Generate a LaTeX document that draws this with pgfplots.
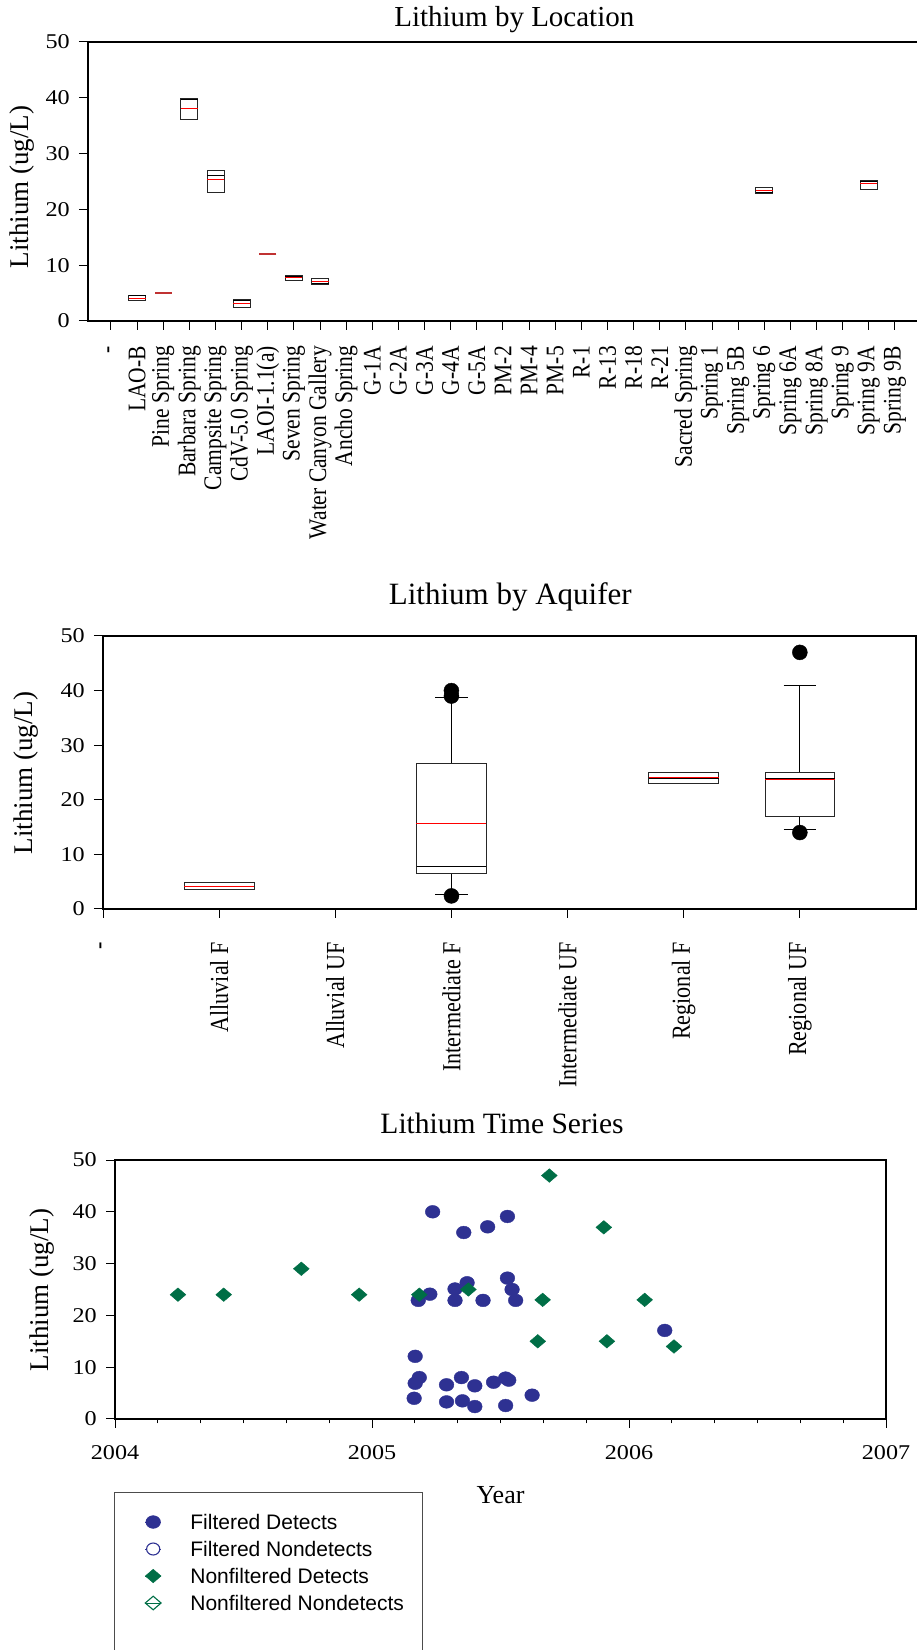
\documentclass[border=0pt]{standalone}
\usepackage{fontspec}
\setmainfont{Liberation Serif}
\newfontfamily\tickfont[FakeStretch=1.15]{Liberation Serif}
\newfontfamily\rotfont[FakeStretch=0.85]{Liberation Serif}
\newfontfamily\legfont{Liberation Sans}
\usepackage{pgfplots}
\pgfplotsset{compat=1.18}
\usepgfplotslibrary{statistics}
\definecolor{fblue}{RGB}{46,49,146}
\definecolor{nfgreen}{RGB}{0,110,70}
\definecolor{darkred}{RGB}{192,50,50}
\pgfplotsset{
  common/.style={
    scale only axis, anchor=south west,
    ymin=0, ymax=50, ytick={0,10,20,30,40,50},
    tick align=outside, tick pos=left,
    major tick length=9bp,
    axis line style={line width=1.1bp, black},
    every tick/.style={black, line width=1bp},
    /pgf/number format/assume math mode=true,
    yticklabel style={font=\tickfont\fontsize{21bp}{23bp}\selectfont, anchor=east, inner sep=0pt, xshift=-9bp},
    ylabel={Lithium (ug/L)},
    ylabel style={font=\fontsize{27bp}{30bp}\selectfont, anchor=center},
    boxplot/draw direction=y,
    boxplot/every box/.style={draw=black!85, line width=0.9bp},
    boxplot/every whisker/.style={black, line width=0.9bp},
    boxplot/every median/.style={black, line width=1.1bp},
  },
  legmark/.style={legend image code/.code={\path (-8bp,0bp) -- (8bp,0bp); \draw[##1] plot coordinates {(0bp,0bp)};}},
}
\begin{document}
\begin{tikzpicture}
\useasboundingbox (0,0) rectangle (917bp,1650bp);
% ---------------- Plot 1 ----------------
\begin{axis}[common,
  at={(88bp,1329bp)}, width=831bp, height=279bp,
  xmin=-0.88, xmax=30.92,
  xtick={0,...,30},
  xticklabels={-, LAO-B, Pine Spring, Barbara Spring, Campsite Spring, CdV-5.0 Spring, LAOI-1.1(a), Seven Spring, Water Canyon Gallery, Ancho Spring, G-1A, G-2A, G-3A, G-4A, G-5A, PM-2, PM-4, PM-5, R-1, R-13, R-18, R-21, Sacred Spring, Spring 1, Spring 5B, Spring 6, Spring 6A, Spring 8A, Spring 9, Spring 9A, Spring 9B},
  xticklabel style={rotate=90, anchor=east, inner sep=0pt, xshift=-16bp, font=\rotfont\fontsize{25.3bp}{27bp}\selectfont},
  ylabel style={at={(axis description cs:-0.0794,0.48)}},
  title={Lithium by Location},
  every axis title/.style={at={(axis description cs:0.513,1)}, anchor=base, yshift=15bp, inner sep=0pt, font=\fontsize{29bp}{32bp}\selectfont},
  boxplot/box extend=0.65, boxplot/whisker extend=0,
]
\addplot[black, boxplot prepared={draw position=1, lower quartile=3.6, upper quartile=4.5, median=4.5, lower whisker=3.6, upper whisker=4.5}] coordinates {};
\addplot[black, boxplot prepared={draw position=3, lower quartile=36.2, upper quartile=39.8, median=39.7, lower whisker=36.2, upper whisker=39.8}] coordinates {};
\addplot[black, boxplot prepared={draw position=4, lower quartile=23.0, upper quartile=27.0, median=26.0, lower whisker=23.0, upper whisker=27.0}] coordinates {};
\addplot[black, boxplot prepared={draw position=5, lower quartile=2.45, upper quartile=3.8, median=3.7, lower whisker=2.45, upper whisker=3.8}] coordinates {};
\addplot[black, boxplot prepared={draw position=7, lower quartile=7.2, upper quartile=8.1, median=8.0, lower whisker=7.2, upper whisker=8.1}] coordinates {};
\addplot[black, boxplot prepared={draw position=8, lower quartile=6.5, upper quartile=7.7, median=6.7, lower whisker=6.5, upper whisker=7.7}] coordinates {};
\addplot[black, boxplot prepared={draw position=25, lower quartile=22.9, upper quartile=24.0, median=23.0, lower whisker=22.9, upper whisker=24.0}] coordinates {};
\addplot[black, boxplot prepared={draw position=29, lower quartile=23.5, upper quartile=25.1, median=25.0, lower whisker=23.5, upper whisker=25.1}] coordinates {};
% means
\addplot[only marks, mark=-, mark size=8.5bp, red, mark options={line width=1bp}] coordinates {(1,4.07) (3,38.0) (4,25.4) (5,3.05) (7,7.75) (8,7.0) (25,23.3) (29,24.55)};
\addplot[only marks, mark=-, mark size=8.5bp, darkred, mark options={line width=1.6bp}] coordinates {(2,5.0) (6,12.0)};
\end{axis}
% ---------------- Plot 2 ----------------
\begin{axis}[common,
  at={(103bp,741bp)}, width=813bp, height=273bp,
  xmin=0, xmax=7,
  xtick={0,...,6},
  xticklabels={-, Alluvial F, Alluvial UF, Intermediate F, Intermediate UF, Regional F, Regional UF},
  xticklabel style={rotate=90, anchor=east, inner sep=0pt, xshift=-24bp, font=\rotfont\fontsize{26bp}{28bp}\selectfont},
  ylabel style={at={(axis description cs:-0.0949,0.498)}},
  title={Lithium by Aquifer},
  every axis title/.style={at={(axis description cs:0.501,1)}, anchor=base, yshift=31bp, inner sep=0pt, font=\fontsize{31bp}{34bp}\selectfont},
  boxplot/box extend=0.6, boxplot/whisker extend=0.28,
]
\addplot[black, boxplot prepared={draw position=1, lower quartile=3.5, upper quartile=4.9, median=4.2, lower whisker=3.5, upper whisker=4.9, whisker extend=0}] coordinates {};
\addplot[black, boxplot prepared={draw position=3, lower quartile=6.47, upper quartile=26.6, median=7.75, lower whisker=2.7, upper whisker=38.8}] coordinates {};
\addplot[black, boxplot prepared={draw position=5, lower quartile=23.0, upper quartile=25.0, median=24.0, lower whisker=23.0, upper whisker=25.0, whisker extend=0}] coordinates {};
\addplot[black, boxplot prepared={draw position=6, lower quartile=16.9, upper quartile=25.0, median=23.9, lower whisker=14.5, upper whisker=40.9}] coordinates {};
\addplot[only marks, mark=-, mark size=35bp, red, mark options={line width=1bp}] coordinates {(1,4.2) (3,15.6) (5,24.0) (6,23.7)};
\addplot[only marks, mark=*, mark size=7.5bp, black] coordinates {(3,40.0) (3,39.0) (3,2.4) (6,47.0) (6,14.0)};
\end{axis}
% ---------------- Plot 3 ----------------
\begin{axis}[common,
  at={(115bp,231bp)}, width=771bp, height=259bp,
  xmin=2004, xmax=2007,
  xtick={2004,2005,2006,2007},
  minor x tick num=5, minor tick length=4.5bp,
  /pgf/number format/1000 sep={},
  xticklabel style={font=\tickfont\fontsize{21bp}{23bp}\selectfont, anchor=north, inner sep=0pt, yshift=-17bp},
  ylabel style={at={(axis description cs:-0.094,0.498)}},
  xlabel={Year},
  xlabel style={at={(axis description cs:0.5,-0.293)}, anchor=center, font=\fontsize{26bp}{30bp}\selectfont},
  title={Lithium Time Series},
  every axis title/.style={at={(axis description cs:0.502,1)}, anchor=base, yshift=27bp, inner sep=0pt, font=\fontsize{29.5bp}{32bp}\selectfont},
  legend style={at={(rel axis cs:0.0389,-0.363)}, anchor=north west, draw=none, fill=none, inner sep=0pt, outer sep=0pt, row sep=9bp, font=\legfont\fontsize{21bp}{23bp}\selectfont, nodes={inner sep=0pt, text height=16bp, text depth=2bp}, /tikz/every odd column/.style={column sep=29bp}},
  legend cell align=left,
]
\addplot[only marks, mark=*, mark size=6.4bp, color=fblue, mark options={xscale=1.15, fill=fblue, draw=fblue}, legmark] coordinates {
(2005.236,40.0) (2005.357,36.0) (2005.45,37.1) (2005.527,39.1) (2005.37,26.3) (2005.323,25.1) (2005.323,22.9) (2005.225,24.1) (2005.18,22.9) (2005.432,22.9) (2005.527,27.2) (2005.545,25.0) (2005.559,22.9) (2006.139,17.1) (2005.168,12.1) (2005.184,8.0) (2005.168,6.9) (2005.164,4.0) (2005.29,6.6) (2005.29,3.3) (2005.348,8.0) (2005.352,3.5) (2005.4,6.4) (2005.4,2.4) (2005.473,7.1) (2005.52,7.9) (2005.532,7.5) (2005.52,2.6) (2005.623,4.6)};
\addlegendentry{Filtered Detects}
\addlegendimage{only marks, mark=*, mark size=6bp, color=fblue, mark options={xscale=1.1, fill=white, draw=fblue, line width=1.1bp}, legmark}
\addlegendentry{Filtered Nondetects}
\addplot[only marks, mark=diamond*, mark size=6.8bp, color=nfgreen, mark options={xscale=1.55, fill=nfgreen, draw=nfgreen}, legmark] coordinates {
(2004.245,24) (2004.423,24) (2004.725,29) (2004.95,24) (2005.184,24) (2005.375,25) (2005.69,47) (2005.664,23) (2005.645,15) (2005.902,37) (2005.914,15) (2006.061,23) (2006.175,14)};
\addlegendentry{Nonfiltered Detects}
\addlegendimage{only marks, mark=diamond, mark size=6.8bp, color=nfgreen, mark options={xscale=1.55, fill=white, draw=nfgreen, line width=1.1bp}, legmark}
\addlegendentry{Nonfiltered Nondetects}
\end{axis}
\draw[black!70, line width=1bp] (114bp,-10bp) -- (114bp,157bp) -- (422bp,157bp) -- (422bp,-10bp);
\end{tikzpicture}
\end{document}
